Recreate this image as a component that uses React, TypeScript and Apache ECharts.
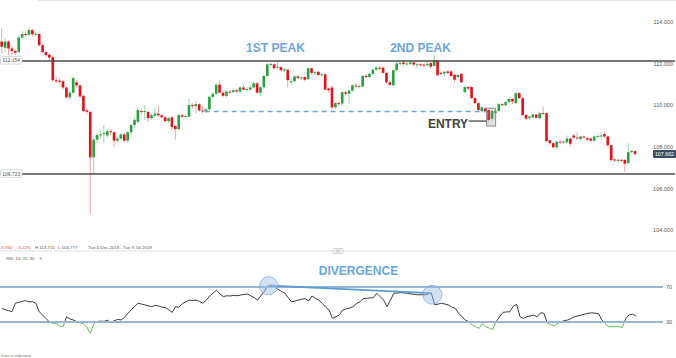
import React, { useEffect, useRef } from "react";
import * as echarts from "echarts";

// [open, close, low, high] per session, Tue 4 Dec 2018 - Tue 9 Jul 2019
const candles: number[][] = [
  [113.05, 112.8, 112.5, 113.69], [112.75, 113.05, 112.55, 113.25], [113.05, 112.72, 112.4, 113.1], [112.72, 112.6, 112.4, 112.85],
  [112.6, 112.52, 112.38, 112.68], [112.55, 113.25, 112.5, 113.35], [113.25, 113.42, 113.15, 113.55], [113.42, 113.38, 113.3, 113.55],
  [113.38, 113.6, 113.3, 113.71], [113.6, 113.4, 113.3, 113.65], [113.4, 113.42, 113.3, 113.5], [113.42, 112.88, 112.8, 113.45],
  [112.88, 112.55, 112.5, 112.95], [112.55, 112.4, 112.3, 112.62], [112.42, 112.28, 112.15, 112.5], [112.3, 111.2, 111.1, 112.35],
  [111.2, 111.18, 111.05, 111.35], [111.18, 111.12, 111.0, 111.3], [111.15, 110.85, 110.75, 111.2], [110.85, 110.38, 110.3, 110.9],
  [110.38, 110.6, 110.25, 110.7], [110.6, 111.3, 110.55, 111.42], [111.1, 110.95, 110.85, 111.2], [110.95, 110.42, 110.35, 111.0],
  [110.45, 109.72, 109.65, 110.5], [109.75, 109.68, 109.55, 109.85], [109.68, 107.5, 104.777, 109.75], [107.5, 108.35, 106.7, 108.4],
  [108.35, 108.57, 108.2, 108.65], [108.57, 108.6, 108.4, 108.8], [108.62, 108.66, 108.2, 109.05], [108.55, 108.75, 108.45, 108.85],
  [108.75, 108.7, 108.55, 108.85], [108.7, 108.3, 108.0, 108.75], [108.3, 108.4, 108.2, 108.5], [108.4, 108.6, 108.3, 108.65],
  [108.6, 108.3, 108.2, 108.65], [108.3, 108.7, 108.2, 108.75], [108.7, 109.05, 108.6, 109.1], [109.05, 109.3, 108.95, 109.4],
  [109.2, 109.77, 109.15, 109.9], [109.72, 109.68, 109.55, 109.85], [109.68, 109.72, 109.3, 110.0], [109.68, 109.38, 109.2, 109.75],
  [109.38, 109.52, 109.3, 109.6], [109.5, 109.6, 109.4, 109.9], [109.6, 109.52, 109.45, 110.0], [109.52, 109.42, 109.35, 109.58],
  [109.42, 109.24, 109.15, 109.48], [109.24, 109.38, 109.15, 109.45], [109.42, 108.95, 108.8, 109.5], [109.0, 108.85, 108.35, 109.05],
  [108.85, 109.52, 108.8, 109.58], [109.52, 109.45, 109.38, 109.6], [109.45, 109.48, 109.4, 109.55], [109.45, 110.0, 109.4, 110.3],
  [110.0, 109.95, 109.85, 110.1], [109.95, 110.05, 109.6, 110.2], [110.05, 109.75, 109.68, 110.1], [109.75, 109.72, 109.6, 109.95],
  [109.7, 109.8, 109.62, 109.88], [109.8, 110.4, 109.75, 110.45], [110.4, 110.55, 110.35, 110.62], [110.55, 110.98, 110.5, 111.05],
  [110.98, 110.6, 110.55, 111.2], [110.6, 110.45, 110.4, 110.7], [110.45, 110.65, 110.38, 110.72], [110.65, 110.63, 110.55, 110.72],
  [110.63, 110.72, 110.58, 110.8], [110.72, 110.66, 110.6, 110.78], [110.65, 110.85, 110.6, 110.92], [110.85, 110.75, 110.7, 111.0],
  [110.75, 110.78, 110.65, 110.88], [110.75, 110.85, 110.7, 110.95], [110.85, 111.05, 110.8, 111.15], [111.05, 110.6, 110.55, 111.1],
  [110.6, 110.86, 110.45, 110.92], [110.86, 111.4, 110.8, 111.48], [111.4, 111.96, 111.35, 112.02], [111.96, 111.98, 111.85, 112.05],
  [111.96, 111.78, 111.7, 112.0], [111.8, 111.85, 111.72, 112.1], [111.82, 111.68, 111.6, 111.88], [111.66, 111.72, 111.6, 111.78],
  [111.7, 111.2, 110.85, 111.75], [111.1, 111.15, 111.0, 111.25], [111.15, 111.38, 111.1, 111.45], [111.38, 111.3, 111.25, 111.45],
  [111.3, 111.33, 111.22, 111.42], [111.35, 111.22, 111.15, 111.4], [111.25, 111.77, 111.2, 111.82], [111.77, 111.55, 111.45, 111.8],
  [111.55, 111.58, 111.45, 111.65], [111.6, 111.45, 111.38, 111.65], [111.45, 111.48, 111.38, 111.55], [111.48, 110.75, 110.7, 111.55],
  [110.8, 110.72, 110.6, 110.85], [110.85, 109.9, 109.75, 110.95], [109.9, 110.1, 109.8, 110.15], [110.1, 110.05, 109.95, 110.15],
  [110.08, 110.62, 110.0, 110.7], [110.62, 110.55, 110.45, 110.7], [110.55, 110.7, 110.05, 110.75], [110.7, 110.95, 110.65, 111.0],
  [110.95, 110.9, 110.82, 111.08], [110.9, 110.92, 110.8, 111.0], [110.9, 111.4, 110.85, 111.45], [111.4, 111.35, 111.28, 111.5],
  [111.35, 111.5, 111.3, 111.55], [111.5, 111.7, 111.45, 111.75], [111.7, 111.8, 111.65, 111.88], [111.8, 111.75, 111.68, 111.85],
  [111.8, 111.55, 111.5, 111.85], [111.55, 111.1, 111.0, 111.6], [111.1, 110.98, 110.9, 111.15], [110.96, 111.68, 110.9, 111.72],
  [111.68, 112.0, 111.62, 112.08], [112.0, 112.02, 111.92, 112.1], [112.05, 111.98, 111.9, 112.12], [111.98, 112.0, 111.9, 112.08],
  [111.98, 112.05, 111.92, 112.1], [112.05, 111.95, 111.85, 112.1], [111.95, 111.96, 111.8, 112.05], [111.96, 111.93, 111.85, 112.02],
  [111.95, 111.92, 111.82, 112.0], [111.92, 111.98, 111.85, 112.05], [112.02, 111.85, 111.75, 112.08], [111.88, 112.15, 111.85, 112.4],
  [112.15, 111.44, 111.4, 112.2], [111.55, 111.52, 111.45, 111.62], [111.52, 111.6, 111.4, 111.65], [111.62, 111.55, 111.48, 111.7],
  [111.62, 111.4, 111.35, 111.65], [111.45, 111.22, 111.1, 111.5], [111.35, 111.45, 111.3, 111.5], [111.5, 111.1, 111.05, 111.55],
  [110.63, 110.87, 110.58, 110.92], [110.87, 110.8, 110.72, 110.92], [110.87, 110.34, 110.3, 110.92], [110.34, 110.1, 110.05, 110.4],
  [110.1, 109.77, 109.7, 110.15], [109.72, 109.9, 109.65, 109.98], [109.85, 109.72, 109.65, 109.9], [109.77, 109.29, 109.2, 109.8],
  [109.35, 109.72, 109.3, 109.78], [109.62, 109.72, 109.55, 109.8], [109.72, 110.05, 109.68, 110.1], [110.05, 110.02, 109.95, 110.12],
  [110.0, 110.15, 109.95, 110.2], [110.15, 110.3, 110.1, 110.4], [110.3, 110.18, 110.05, 110.35], [110.1, 110.58, 110.05, 110.62],
  [110.58, 110.34, 110.3, 110.62], [110.34, 109.53, 109.48, 110.38], [109.53, 109.35, 109.3, 109.58], [109.38, 109.45, 109.3, 109.5],
  [109.42, 109.55, 109.38, 109.62], [109.55, 109.4, 109.35, 109.6], [109.38, 109.62, 109.3, 109.68], [109.62, 109.6, 109.55, 109.95],
  [109.62, 108.28, 108.22, 109.65], [108.32, 108.18, 108.1, 108.35], [108.18, 107.98, 107.92, 108.22], [107.98, 108.25, 107.9, 108.3],
  [108.25, 108.22, 108.15, 108.35], [108.22, 108.26, 108.15, 108.32], [108.22, 108.4, 108.18, 108.55], [108.4, 108.15, 108.0, 108.45],
  [108.55, 108.45, 108.4, 108.62], [108.45, 108.42, 108.3, 108.7], [108.38, 108.5, 108.3, 108.55], [108.5, 108.45, 108.4, 108.55],
  [108.42, 108.35, 108.25, 108.48], [108.4, 108.3, 108.22, 108.45], [108.3, 108.5, 108.25, 108.55], [108.5, 108.52, 108.45, 108.6],
  [108.52, 108.55, 108.45, 108.7], [108.62, 108.5, 108.42, 108.72], [108.5, 108.08, 108.0, 108.55], [108.08, 107.37, 107.3, 108.1],
  [107.4, 107.35, 107.28, 107.45], [107.35, 107.38, 107.25, 107.45], [107.38, 107.35, 107.28, 107.42], [107.38, 107.2, 106.8, 107.4],
  [107.23, 107.75, 107.15, 108.18], [107.75, 107.8, 107.7, 107.85], [107.8, 107.662, 107.55, 107.82],
];

// RSI(14) per session
const rsi: number[] = [
  45.6, 44, 43, 41.8, 51.4, 52.5, 53.5, 54.4, 53, 53.2, 51.4, 41.8, 38, 34, 30, 28.5, 28.5, 25.5, 24.6, 36,
  33.5, 32.3, 30.4, 29, 28, 24, 17, 28, 30.5, 31, 30.7, 32, 29.5, 31.5, 33, 32.3, 35, 40, 44, 48,
  51.4, 50.5, 49.5, 48.5, 47.5, 49, 48.3, 47, 46.4, 44, 41, 47.6, 47, 51, 53, 55, 54.5, 55, 53.5, 51.4,
  55, 59.7, 63, 66.6, 62, 59, 60, 59.7, 60.5, 60, 60.8, 61.5, 62, 60, 58, 55, 60, 64.8, 71.5, 72,
  70.5, 67.5, 65, 63, 58, 53, 54, 55, 56, 56.7, 54, 59.7, 57, 55, 51.4, 47, 43.7, 34.2, 36, 38,
  43.7, 45, 46, 47.5, 51, 53, 56.7, 57, 57.5, 57.8, 62.9, 59, 55, 47.5, 55, 62.9, 63, 63.6, 63.2, 62.9,
  62, 61.5, 61, 61.2, 61, 62, 62.9, 49.5, 50.5, 51.4, 50.5, 49.5, 47, 45.6, 40, 36, 32, 30.4, 26.7, 24.5,
  22.7, 28.5, 24.6, 23, 21.5, 30.4, 36, 41, 41.5, 41.7, 48, 50.3, 36, 34.2, 36, 37, 38, 36, 40.5, 40,
  29, 27, 25.5, 28, 30.4, 31.5, 32.3, 34, 36, 37, 38, 39, 40, 40.5, 40, 39.8, 32.3, 28, 24.6, 24.6,
  24.6, 24.6, 23.8, 34, 38, 39, 36.7,
];

const priceTicks = [104, 106, 108, 110, 112, 114];
const rsiLevels = [30, 70];
const levelLines = [112.154, 106.723];
const neckline = 109.72;
const necklineFrom = 59.6;
const necklineTo = 142.3;
const lastPrice = 107.662;
const entryIndex = 143;
const entryBox = [109.0, 109.86];
const peakLabels = [
  { text: "1ST PEAK", index: 80.4, price: 112.74 },
  { text: "2ND PEAK", index: 123, price: 112.74 },
];
const divergencePoints = [78, 126];
const headerItems = [
  { text: "-5.930", x: 0, red: true },
  { text: "-5.22%", x: 17, red: true },
  { text: "H 113.710", x: 35, red: false },
  { text: "L 104.777", x: 58, red: false },
  { text: "Tue 4 Dec 2018 - Tue 9 Jul 2019", x: 88, red: false },
];
const rsiHeader = [
  { text: "RSI", x: 6 },
  { text: "14", x: 15.5 },
  { text: "70", x: 22.5 },
  { text: "30", x: 29.5 },
  { text: "✕", x: 39 },
];

const FONT = "'Liberation Sans', Arial, sans-serif";
const UP = "#2ea043";
const DOWN = "#e3131b";
const UP_WICK = "#9fd6a3";
const DOWN_WICK = "#f3a3a6";
const ANNOT_BLUE = "#6aa6dc";

export default function App() {
  const ref = useRef<HTMLDivElement>(null);

  useEffect(() => {
    if (!ref.current) return;
    const chart = echarts.init(ref.current, undefined, { renderer: "svg" });
    const candleData = candles.map((d, i) => [i, d[0], d[1], d[2], d[3]]);
    const pxPerUnit = 3.41;
    const xMin = -0.5;
    const xMaxMain = xMin + 676 / pxPerUnit;
    const xMaxRsi = xMin + 663 / pxPerUnit;

    chart.setOption({
      animation: false,
      grid: [
        { left: 0, right: 0, top: 0, height: 250 },
        { left: 0, right: 13, top: 255, height: 95 },
      ],
      xAxis: [
        { type: "value", gridIndex: 0, min: xMin, max: xMaxMain, show: false },
        { type: "value", gridIndex: 1, min: xMin, max: xMaxRsi, show: false },
      ],
      yAxis: [
        {
          type: "value",
          gridIndex: 0,
          position: "right",
          min: 103.056,
          max: 115.046,
          axisLine: { show: false },
          axisTick: { show: false },
          splitLine: { show: false },
          axisLabel: {
            inside: true,
            customValues: priceTicks,
            formatter: (v: number) => v.toFixed(3),
            fontSize: 5.5,
            color: "#555",
            margin: 2,
            fontFamily: FONT,
          },
        },
        {
          type: "value",
          gridIndex: 1,
          position: "right",
          min: -2,
          max: 106.57,
          axisLine: { show: false },
          axisTick: { show: false },
          splitLine: { show: false },
          axisLabel: {
            customValues: rsiLevels,
            fontSize: 5.5,
            color: "#555",
            margin: 3,
            fontFamily: FONT,
          },
        },
      ],
      visualMap: {
        type: "piecewise",
        show: false,
        seriesIndex: 2,
        dimension: 1,
        pieces: [
          { lt: 30, color: "#5dbb5d" },
          { gte: 30, lte: 70, color: "#3a3a3a" },
          { gt: 70, color: "#e0524f" },
        ],
      },
      series: [
        {
          type: "line",
          xAxisIndex: 0,
          yAxisIndex: 0,
          data: candles.map((d, i) => [i, d[1]]),
          showSymbol: false,
          silent: true,
          lineStyle: { opacity: 0 },
          z: 1,
          markLine: {
            silent: true,
            symbol: ["none", "none"],
            label: { show: false },
            data: [
              ...levelLines.map((v) => ({ yAxis: v, lineStyle: { color: "#4a4a4a", width: 1.6, type: "solid" } })),
              [
                { coord: [necklineFrom, neckline], lineStyle: { color: "#6aa6dc", width: 1.4, type: [5, 4] } },
                { coord: [necklineTo, neckline] },
              ],
            ],
          },
        },
        {
          type: "custom",
          xAxisIndex: 0,
          yAxisIndex: 0,
          data: candleData,
          encode: { x: 0, y: [1, 2, 3, 4] },
          z: 3,
          renderItem: (_params: any, api: any) => {
            const i = api.value(0);
            const o = api.value(1);
            const c = api.value(2);
            const l = api.value(3);
            const h = api.value(4);
            const po = api.coord([i, o]);
            const pc = api.coord([i, c]);
            const pl = api.coord([i, l]);
            const ph = api.coord([i, h]);
            const w = api.size([1, 0])[0] * 0.78;
            const up = c >= o;
            const top = Math.min(po[1], pc[1]);
            const hh = Math.max(1, Math.abs(po[1] - pc[1]));
            return {
              type: "group",
              children: [
                {
                  type: "line",
                  shape: { x1: po[0], y1: ph[1], x2: po[0], y2: pl[1] },
                  style: { stroke: up ? UP_WICK : DOWN_WICK, lineWidth: 1 },
                },
                {
                  type: "rect",
                  shape: { x: po[0] - w / 2, y: top, width: w, height: hh },
                  style: { fill: up ? UP : DOWN },
                },
              ],
            };
          },
        },
        {
          type: "line",
          xAxisIndex: 1,
          yAxisIndex: 1,
          data: rsi.map((v, i) => [i, v]),
          showSymbol: false,
          lineStyle: { width: 1 },
          z: 3,
          markLine: {
            silent: true,
            symbol: ["none", "none"],
            label: { show: false },
            lineStyle: { color: "#98b6d4", width: 1.8, type: "solid" },
            data: rsiLevels.map((v) => ({ yAxis: v })),
          },
        },
      ],
    });

    const p0 = (pt: number[]) => chart.convertToPixel({ gridIndex: 0 }, pt) as number[];
    const p1 = (pt: number[]) => chart.convertToPixel({ gridIndex: 1 }, pt) as number[];

    const graphics: any[] = [];
    // frame lines
    graphics.push({ type: "line", shape: { x1: 38, y1: 0.5, x2: 676, y2: 0.5 }, style: { stroke: "#e2e2e2", lineWidth: 1 }, silent: true });
    graphics.push({ type: "line", shape: { x1: 0, y1: 251, x2: 676, y2: 251 }, style: { stroke: "#e0e0e0", lineWidth: 1 }, silent: true });
    graphics.push({ type: "rect", shape: { x: 333, y: 248.5, width: 10, height: 5, r: 1 }, style: { fill: "#f6f6f6", stroke: "#bbbbbb", lineWidth: 0.6 }, silent: true });
    graphics.push({ type: "line", shape: { x1: 335.5, y1: 250.3, x2: 340.5, y2: 250.3 }, style: { stroke: "#999", lineWidth: 0.5 }, silent: true });
    graphics.push({ type: "line", shape: { x1: 335.5, y1: 251.8, x2: 340.5, y2: 251.8 }, style: { stroke: "#999", lineWidth: 0.5 }, silent: true });

    headerItems.forEach((h) => {
      graphics.push({
        type: "text",
        x: h.x,
        y: 247,
        style: { text: h.text, fill: h.red ? "#e2463f" : "#555", fontSize: 4.4, fontFamily: FONT, verticalAlign: "middle" },
        silent: true,
      });
    });
    rsiHeader.forEach((h) => {
      graphics.push({
        type: "text",
        x: h.x,
        y: 258.5,
        style: { text: h.text, fill: "#555", fontSize: 4.3, fontFamily: FONT, verticalAlign: "middle" },
        silent: true,
      });
    });
    graphics.push({
      type: "text",
      x: 1,
      y: 355,
      style: { text: "Data is indicative", fill: "#777", fontSize: 4, fontFamily: FONT, verticalAlign: "middle" },
      silent: true,
    });

    // left level tags
    levelLines.forEach((v) => {
      const y = p0([0, v])[1];
      graphics.push({ type: "rect", shape: { x: 0.5, y: y - 3.8, width: 21.5, height: 7.6, r: 1 }, style: { fill: "#fff", stroke: "#cfcfcf", lineWidth: 0.8 }, silent: true, z: 10 });
      graphics.push({
        type: "text",
        x: 11.25,
        y,
        style: { text: v.toFixed(3), fill: "#555", fontSize: 5, fontFamily: FONT, align: "center", verticalAlign: "middle" },
        silent: true,
        z: 11,
      });
    });

    // last price tag
    {
      const y = p0([0, lastPrice])[1];
      graphics.push({ type: "rect", shape: { x: 653, y: y - 4, width: 23, height: 8, r: 1 }, style: { fill: "#3c4d63" }, silent: true, z: 10 });
      graphics.push({
        type: "text",
        x: 664.5,
        y,
        style: { text: lastPrice.toFixed(3), fill: "#fff", fontSize: 5.3, fontFamily: FONT, align: "center", verticalAlign: "middle" },
        silent: true,
        z: 11,
      });
    }

    // peak labels
    peakLabels.forEach((pk) => {
      const [x, y] = p0([pk.index, pk.price]);
      graphics.push({
        type: "text",
        x,
        y,
        style: { text: pk.text, fill: ANNOT_BLUE, fontSize: 12, fontWeight: "bold", fontFamily: FONT, align: "center", verticalAlign: "middle" },
        silent: true,
        z: 12,
      });
    });

    // entry box, leader and label
    {
      const top = p0([entryIndex, entryBox[1]]);
      const bot = p0([entryIndex, entryBox[0]]);
      const half = 4.5;
      const cx = top[0] + 2.5;
      graphics.push({
        type: "rect",
        shape: { x: cx - half, y: top[1], width: half * 2, height: bot[1] - top[1] },
        style: { fill: "rgba(140,140,140,0.28)", stroke: "#8a8a8a", lineWidth: 1 },
        silent: true,
        z: 12,
      });
      const ly = p0([entryIndex, 109.24])[1];
      graphics.push({ type: "line", shape: { x1: cx - half - 18, y1: ly, x2: cx - half, y2: ly }, style: { stroke: "#555", lineWidth: 1.4 }, silent: true, z: 12 });
      graphics.push({
        type: "text",
        x: cx - half - 18.5,
        y: ly + 3,
        style: { text: "ENTRY", fill: "#444", fontSize: 12, fontWeight: "bold", fontFamily: FONT, align: "right", verticalAlign: "middle" },
        silent: true,
        z: 12,
      });
    }

    // divergence
    {
      const a = p1([divergencePoints[0], rsi[divergencePoints[0]]]);
      const b = p1([divergencePoints[1], rsi[divergencePoints[1]]]);
      graphics.push({ type: "line", shape: { x1: a[0] + 2, y1: a[1], x2: b[0], y2: b[1] }, style: { stroke: "#5b9bd5", lineWidth: 1.8 }, silent: true, z: 12 });
      graphics.push({ type: "circle", shape: { cx: a[0] + 1, cy: a[1], r: 9 }, style: { fill: "rgba(150,190,228,0.45)", stroke: "rgba(110,160,215,0.65)", lineWidth: 1 }, silent: true, z: 13 });
      graphics.push({ type: "circle", shape: { cx: b[0] + 1, cy: b[1] + 1.5, r: 9.5 }, style: { fill: "rgba(150,190,228,0.45)", stroke: "rgba(110,160,215,0.65)", lineWidth: 1 }, silent: true, z: 13 });
      graphics.push({
        type: "text",
        x: (a[0] + b[0]) / 2 + 9,
        y: 271,
        style: { text: "DIVERGENCE", fill: ANNOT_BLUE, fontSize: 12, fontWeight: "bold", fontFamily: FONT, align: "center", verticalAlign: "middle" },
        silent: true,
        z: 12,
      });
    }

    chart.setOption({ graphic: graphics });

    return () => chart.dispose();
  }, []);

  return <div ref={ref} style={{ width: 676, height: 358, position: "absolute", left: 0, top: 0 }} />;
}
